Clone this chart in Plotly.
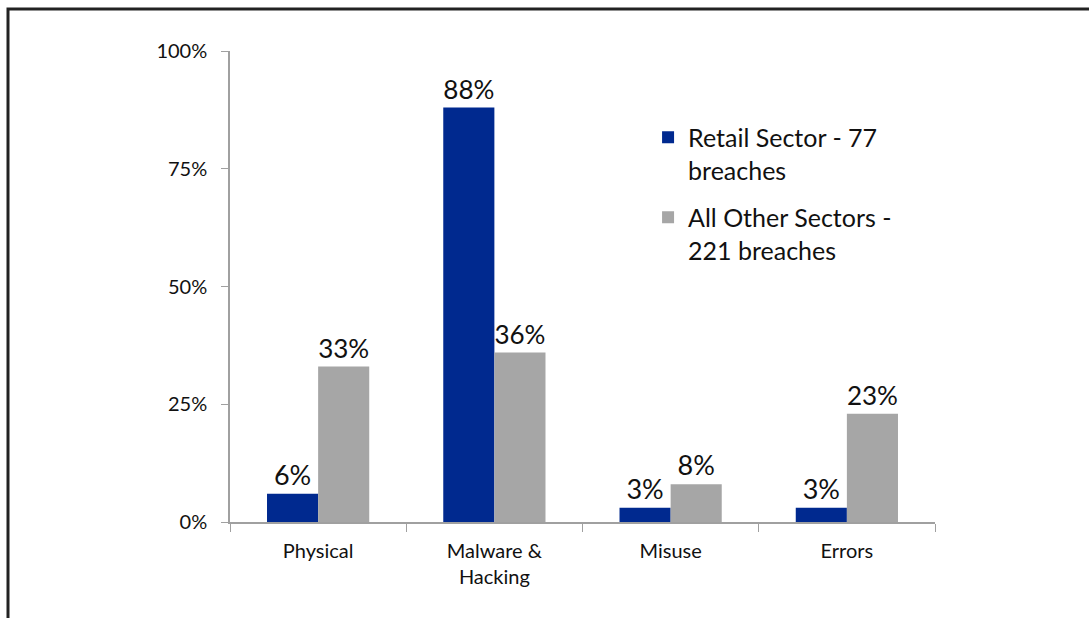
import plotly.graph_objects as go

categories = ["Physical", "Malware &<br>Hacking", "Misuse", "Errors"]
retail = [0.06, 0.88, 0.03, 0.03]
other = [0.33, 0.36, 0.08, 0.23]
series_names = ["Retail Sector - 77<br>breaches", "All Other Sectors -<br>221 breaches"]
y_ticks = [0, 0.25, 0.5, 0.75, 1.0]
y_tick_labels = ["0%", "25%", "50%", "75%", "100%"]

FONT = "Lato, Open Sans, sans-serif"
BLUE = "#00298F"
GREY = "#A6A6A6"
AXIS = "#A0A0A0"

fig = go.Figure()
for i, (name, vals, color) in enumerate([(series_names[0], retail, BLUE),
                                         (series_names[1], other, GREY)]):
    fig.add_trace(go.Bar(
        x=categories, y=vals, name=name, legendgroup=f"g{i}",
        marker=dict(color=color, line=dict(width=0)),
        text=[f"{v:.0%}" for v in vals],
        textposition="outside", cliponaxis=False,
        textfont=dict(family=FONT, size=27, color="#111"),
    ))

fig.update_layout(
    width=1089, height=618,
    margin=dict(l=230, r=154, t=51, b=96),
    paper_bgcolor="white", plot_bgcolor="white",
    barmode="group", bargap=0.42, bargroupgap=0,
    font=dict(family=FONT, color="#111"),
    legend=dict(
        x=0.593, y=0.865, xanchor="left", yanchor="top",
        font=dict(family=FONT, size=25, color="#111"),
        valign="top", itemwidth=30, tracegroupgap=12,
        bgcolor="rgba(0,0,0,0)",
    ),
)
fig.update_xaxes(
    showline=True, linecolor=AXIS, linewidth=1.5,
    ticks="outside", tickson="boundaries", ticklen=8, tickcolor=AXIS,
    tickfont=dict(family=FONT, size=20, color="#111"),
    ticklabelstandoff=10,
    showgrid=False,
)
fig.update_yaxes(
    range=[0, 1.0], tickvals=y_ticks, ticktext=y_tick_labels,
    showline=True, linecolor=AXIS, linewidth=1.5,
    ticks="outside", ticklen=7, tickcolor=AXIS,
    tickfont=dict(family=FONT, size=20, color="#111"),
    ticklabelstandoff=10,
    showgrid=False, zeroline=False,
)

# outer frame around the chart
fig.add_shape(type="rect", xref="paper", yref="paper",
              x0=(8 - 230) / 705, x1=(1100 - 230) / 705,
              y0=(522 - 640) / 471, y1=(522 - 9) / 471,
              line=dict(color="#222", width=3), layer="above")

fig.write_html("out.html")
